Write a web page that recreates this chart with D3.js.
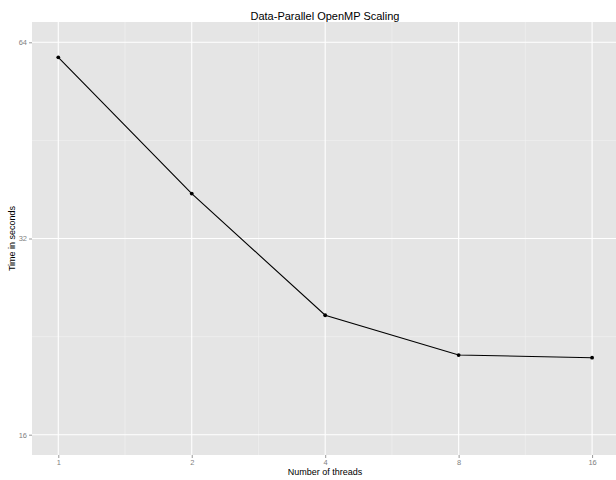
<!DOCTYPE html>
<html>
<head>
<meta charset="utf-8">
<script src="https://cdn.jsdelivr.net/npm/d3@7"></script>
<style>
  html, body { margin: 0; padding: 0; background: #fff; }
  svg { display: block; }
  text { font-family: "Liberation Sans", Arial, Helvetica, sans-serif; }
</style>
</head>
<body>
<svg id="chart" width="616" height="480"></svg>
<script>
const threads = [1, 2, 4, 8, 16];
const seconds = [60.7, 37.5, 24.4, 21.2, 21.0];
const xTicks = [1, 2, 4, 8, 16];
const yTicks = [16, 32, 64];
const xMinor = [1.4142, 2.8284, 5.6569, 11.3137];
const yMinor = [22.627, 45.255];
const title = "Data-Parallel OpenMP Scaling";
const xTitle = "Number of threads";
const yTitle = "Time in seconds";

const W = 616, H = 480;
const panel = { left: 32, top: 22, right: 616, bottom: 455 };

const svg = d3.select("#chart");

const x = d3.scaleLog().base(2)
  .domain([Math.pow(2, -0.197), Math.pow(2, 4.18)])
  .range([panel.left, panel.left + (4.377) * 133.45]);
const y = d3.scaleLog().base(2)
  .domain([Math.pow(2, 4 - 0.1035), Math.pow(2, 6 + 0.1035)])
  .range([panel.bottom, panel.top]);

// background
svg.append("rect")
  .attr("x", panel.left).attr("y", panel.top)
  .attr("width", panel.right - panel.left)
  .attr("height", panel.bottom - panel.top)
  .attr("fill", "#e5e5e5");

const g = svg.append("g");

// minor grid
g.selectAll(".xminor").data(xMinor).join("line")
  .attr("x1", d => x(d)).attr("x2", d => x(d))
  .attr("y1", panel.top).attr("y2", panel.bottom)
  .attr("stroke", "#f2f2f2").attr("stroke-width", 0.6);
g.selectAll(".yminor").data(yMinor).join("line")
  .attr("y1", d => y(d)).attr("y2", d => y(d))
  .attr("x1", panel.left).attr("x2", panel.right)
  .attr("stroke", "#f2f2f2").attr("stroke-width", 0.6);

// major grid
g.selectAll(".xmajor").data(xTicks).join("line")
  .attr("x1", d => x(d)).attr("x2", d => x(d))
  .attr("y1", panel.top).attr("y2", panel.bottom)
  .attr("stroke", "#ffffff").attr("stroke-width", 1.1);
g.selectAll(".ymajor").data(yTicks).join("line")
  .attr("y1", d => y(d)).attr("y2", d => y(d))
  .attr("x1", panel.left).attr("x2", panel.right)
  .attr("stroke", "#ffffff").attr("stroke-width", 1.1);

// axes
const xAxis = d3.axisBottom(x).tickValues(xTicks).tickFormat(d3.format("d"))
  .tickSize(3).tickPadding(2);
const yAxis = d3.axisLeft(y).tickValues(yTicks).tickFormat(d3.format("d"))
  .tickSize(3).tickPadding(2);

const gx = svg.append("g").attr("transform", `translate(0,${panel.bottom})`).call(xAxis);
const gy = svg.append("g").attr("transform", `translate(${panel.left},0)`).call(yAxis);
[gx, gy].forEach(a => {
  a.select(".domain").remove();
  a.selectAll(".tick line").attr("stroke", "#7f7f7f").attr("stroke-width", 0.8);
  a.selectAll(".tick text").attr("fill", "#7f7f7f").attr("font-size", "7.5px")
    .attr("font-family", "Liberation Sans, Arial, sans-serif");
});

// line + points
const line = d3.line().x(d => x(d[0])).y(d => y(d[1]));
const pts = threads.map((t, i) => [t, seconds[i]]);
svg.append("path").datum(pts)
  .attr("d", line).attr("fill", "none")
  .attr("stroke", "#000").attr("stroke-width", 1.1);
svg.selectAll(".pt").data(pts).join("circle")
  .attr("cx", d => x(d[0])).attr("cy", d => y(d[1]))
  .attr("r", 1.9).attr("fill", "#000");

// titles
svg.append("text").attr("x", 325).attr("y", 20)
  .attr("text-anchor", "middle").attr("font-size", "11px").attr("fill", "#000")
  .text(title);
svg.append("text").attr("x", 325).attr("y", 475)
  .attr("text-anchor", "middle").attr("font-size", "9px").attr("fill", "#000")
  .text(xTitle);
svg.append("text")
  .attr("transform", `translate(15,${(panel.top + panel.bottom) / 2}) rotate(-90)`)
  .attr("text-anchor", "middle").attr("font-size", "9px").attr("fill", "#000")
  .text(yTitle);
</script>
</body>
</html>
